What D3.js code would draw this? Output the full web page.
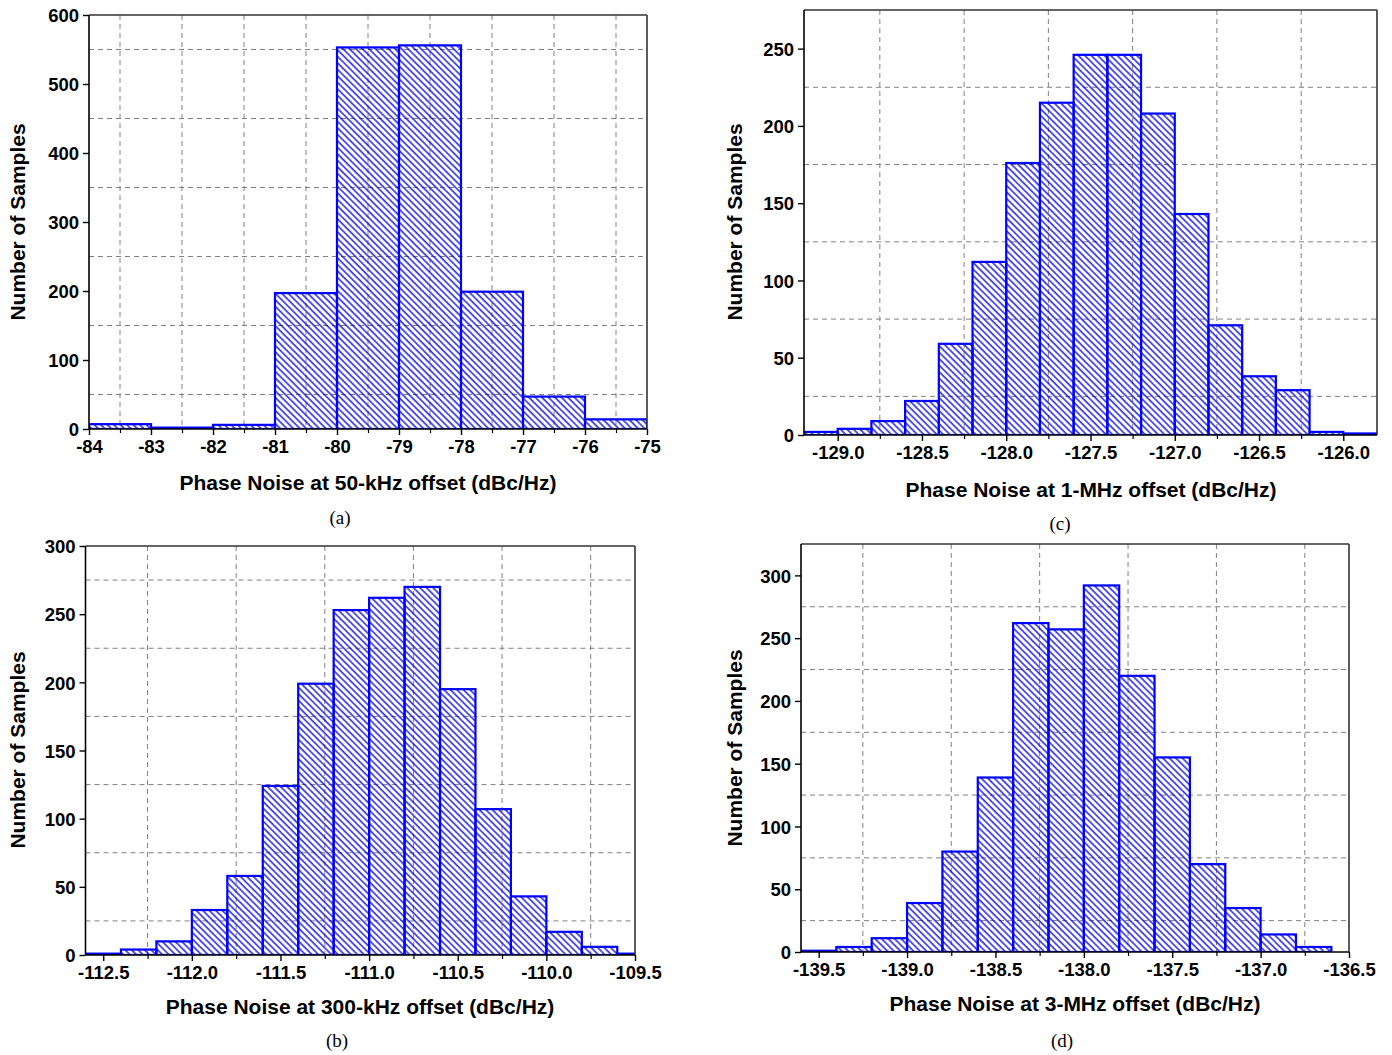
<!DOCTYPE html>
<html>
<head>
<meta charset="utf-8">
<script src="https://cdn.jsdelivr.net/npm/d3@7"></script>
<style>
  html, body { margin: 0; padding: 0; background: #fff; }
  svg { display: block; }
  .tick text { font-family: "Liberation Sans", Arial, sans-serif; font-weight: bold; font-size: 18.5px; fill: #000; }
  .axis-title { font-family: "Liberation Sans", Arial, sans-serif; font-weight: bold; font-size: 21px; fill: #000; }
  .caption { font-family: "Liberation Serif", "Times New Roman", serif; font-size: 19px; fill: #000; }
</style>
</head>
<body>
<svg id="chart" width="1392" height="1055"></svg>
<script>
// ---- data: histogram bins (left edges), bin width and counts ----
// (a) 50-kHz offset
const aBins = [-84, -83, -82, -81, -80, -79, -78, -77, -76];
const aCounts = [7, 2, 6, 197, 553, 556, 199, 47, 14];
const aBinWidth = 1;
const aXTicks = [-84, -83, -82, -81, -80, -79, -78, -77, -76, -75];
const aXGrid = [-83.5, -82.5, -81.5, -80.5, -79.5, -78.5, -77.5, -76.5, -75.5];
const aYTicks = [0, 100, 200, 300, 400, 500, 600];
const aYGrid = [50, 150, 250, 350, 450, 550];

// (b) 300-kHz offset
const bBins = [-112.6, -112.4, -112.2, -112.0, -111.8, -111.6, -111.4, -111.2, -111.0, -110.8, -110.6, -110.4, -110.2, -110.0, -109.8, -109.6];
const bCounts = [1, 4, 10, 33, 58, 124, 199, 253, 262, 270, 195, 107, 43, 17, 6, 1];
const bBinWidth = 0.2;
const bXTicks = [-112.5, -112.0, -111.5, -111.0, -110.5, -110.0, -109.5];
const bXGrid = [-112.25, -111.75, -111.25, -110.75, -110.25, -109.75];
const bYTicks = [0, 50, 100, 150, 200, 250, 300];
const bYGrid = [25, 75, 125, 175, 225, 275];

// (c) 1-MHz offset
const cBins = [-129.2, -129.0, -128.8, -128.6, -128.4, -128.2, -128.0, -127.8, -127.6, -127.4, -127.2, -127.0, -126.8, -126.6, -126.4, -126.2, -126.0];
const cCounts = [2, 4, 9, 22, 59, 112, 176, 215, 246, 246, 208, 143, 71, 38, 29, 2, 1];
const cBinWidth = 0.2;
const cXTicks = [-129.0, -128.5, -128.0, -127.5, -127.0, -126.5, -126.0];
const cXGrid = [-128.75, -128.25, -127.75, -127.25, -126.75, -126.25];
const cYTicks = [0, 50, 100, 150, 200, 250];
const cYGrid = [25, 75, 125, 175, 225];

// (d) 3-MHz offset
const dBins = [-139.6, -139.4, -139.2, -139.0, -138.8, -138.6, -138.4, -138.2, -138.0, -137.8, -137.6, -137.4, -137.2, -137.0, -136.8];
const dCounts = [1, 4, 11, 39, 80, 139, 262, 257, 292, 220, 155, 70, 35, 14, 4];
const dBinWidth = 0.2;
const dXTicks = [-139.5, -139.0, -138.5, -138.0, -137.5, -137.0, -136.5];
const dXGrid = [-139.25, -138.75, -138.25, -137.75, -137.25, -136.75];
const dYTicks = [0, 50, 100, 150, 200, 250, 300];
const dYGrid = [25, 75, 125, 175, 225, 275];

const blue = "#0000ff";
const svg = d3.select("#chart");

// diagonal hatch "\\\" used for every bar
const defs = svg.append("defs");
defs.append("pattern")
    .attr("id", "hatch")
    .attr("patternUnits", "userSpaceOnUse")
    .attr("width", 4.6).attr("height", 10)
    .attr("patternTransform", "rotate(-45)")
    .append("line")
    .attr("x1", 1).attr("y1", -2).attr("x2", 1).attr("y2", 12)
    .attr("stroke", "#0000e6").attr("stroke-width", 1.3);

function drawPanel(p) {
    const x = d3.scaleLinear().domain(p.xDomain).range([p.left, p.right]);
    const y = d3.scaleLinear().domain(p.yDomain).range([p.bottom, p.top]);
    const g = svg.append("g");

    defs.append("clipPath").attr("id", `clip-${p.id}`)
        .append("rect")
        .attr("x", p.left).attr("y", p.top - 5)
        .attr("width", p.right - p.left).attr("height", p.bottom - p.top + 5);

    // dashed grid at the minor positions
    g.append("g").selectAll("line").data(p.xGrid).join("line")
        .attr("x1", d => x(d)).attr("x2", d => x(d))
        .attr("y1", p.top).attr("y2", p.bottom)
        .attr("stroke", "#808080").attr("stroke-width", 1).attr("stroke-dasharray", "5,4");
    g.append("g").selectAll("line").data(p.yGrid).join("line")
        .attr("x1", p.left).attr("x2", p.right)
        .attr("y1", d => y(d)).attr("y2", d => y(d))
        .attr("stroke", "#808080").attr("stroke-width", 1).attr("stroke-dasharray", "5,4");

    // bars
    const data = p.bins.map((b, i) => ({ x0: b, x1: b + p.binWidth, n: p.counts[i] }));
    g.append("g").attr("clip-path", `url(#clip-${p.id})`)
        .selectAll("rect").data(data).join("rect")
        .attr("x", d => x(d.x0))
        .attr("width", d => x(d.x1) - x(d.x0))
        .attr("y", d => y(d.n))
        .attr("height", d => y(0) - y(d.n))
        .attr("fill", "url(#hatch)")
        .attr("stroke", blue).attr("stroke-width", 2.2);

    // frame: top/right
    g.append("line").attr("x1", p.left).attr("x2", p.right).attr("y1", p.top).attr("y2", p.top)
        .attr("stroke", "#333").attr("stroke-width", 1.6);
    g.append("line").attr("x1", p.right).attr("x2", p.right).attr("y1", p.top).attr("y2", p.bottom)
        .attr("stroke", "#333").attr("stroke-width", 1.6);

    // x axis (major + minor ticks)
    g.append("g").attr("transform", `translate(0,${p.bottom})`)
        .call(d3.axisBottom(x).tickValues(p.xGrid).tickSize(4).tickFormat(""))
        .call(a => a.select(".domain").remove())
        .call(a => a.selectAll(".tick line").attr("stroke", "#000").attr("stroke-width", 1.2));
    g.append("g").attr("transform", `translate(0,${p.bottom})`)
        .call(d3.axisBottom(x).tickValues(p.xTicks).tickSize(6).tickPadding(5).tickFormat(d => d.toFixed(p.xDec)))
        .call(a => a.select(".domain").attr("d", `M${p.left},0H${p.right}`).attr("stroke", "#000").attr("stroke-width", 1.6))
        .call(a => a.selectAll(".tick line").attr("stroke", "#000").attr("stroke-width", 1.4))
        .call(a => a.selectAll(".tick text").attr("font-family", null).attr("font-size", null));

    // y axis
    g.append("g").attr("transform", `translate(${p.left},0)`)
        .call(d3.axisLeft(y).tickValues(p.yTicks).tickSize(6).tickPadding(4).tickFormat(d => d))
        .call(a => a.select(".domain").attr("d", `M0,${p.bottom}V${p.top}`).attr("stroke", "#000").attr("stroke-width", 1.6))
        .call(a => a.selectAll(".tick line").attr("stroke", "#000").attr("stroke-width", 1.4))
        .call(a => a.selectAll(".tick text").attr("font-family", null).attr("font-size", null).attr("dy", "0.36em"));

    // titles
    svg.append("text").attr("class", "axis-title").attr("text-anchor", "middle")
        .attr("x", p.xTitle[0]).attr("y", p.xTitle[1]).text(p.xLabel);
    svg.append("text").attr("class", "axis-title").attr("text-anchor", "middle")
        .attr("transform", `translate(${p.yTitle[0]},${p.yTitle[1]}) rotate(-90)`)
        .text("Number of Samples");
    svg.append("text").attr("class", "caption").attr("text-anchor", "middle")
        .attr("x", p.caption[0]).attr("y", p.caption[1]).text(p.captionText);
}

drawPanel({
    id: "a", bins: aBins, counts: aCounts, binWidth: aBinWidth,
    xTicks: aXTicks, xGrid: aXGrid, yTicks: aYTicks, yGrid: aYGrid, xDec: 0,
    xDomain: [-84, -75], yDomain: [0, 600],
    left: 89, right: 647, top: 15, bottom: 429,
    xLabel: "Phase Noise at 50-kHz offset (dBc/Hz)", xTitle: [368, 490], yTitle: [25, 222],
    captionText: "(a)", caption: [340, 524]
});
drawPanel({
    id: "c", bins: cBins, counts: cCounts, binWidth: cBinWidth,
    xTicks: cXTicks, xGrid: cXGrid, yTicks: cYTicks, yGrid: cYGrid, xDec: 1,
    xDomain: [-129.2, -125.8], yDomain: [0, 275],
    left: 804, right: 1377, top: 10, bottom: 435,
    xLabel: "Phase Noise at 1-MHz offset (dBc/Hz)", xTitle: [1091, 497], yTitle: [742, 222],
    captionText: "(c)", caption: [1060, 530]
});
drawPanel({
    id: "b", bins: bBins, counts: bCounts, binWidth: bBinWidth,
    xTicks: bXTicks, xGrid: bXGrid, yTicks: bYTicks, yGrid: bYGrid, xDec: 1,
    xDomain: [-112.6, -109.5], yDomain: [0, 300],
    left: 85.5, right: 635, top: 546, bottom: 955,
    xLabel: "Phase Noise at 300-kHz offset (dBc/Hz)", xTitle: [360, 1014], yTitle: [25, 750],
    captionText: "(b)", caption: [337, 1047]
});
drawPanel({
    id: "d", bins: dBins, counts: dCounts, binWidth: dBinWidth,
    xTicks: dXTicks, xGrid: dXGrid, yTicks: dYTicks, yGrid: dYGrid, xDec: 1,
    xDomain: [-139.6, -136.5], yDomain: [0, 325],
    left: 801, right: 1349, top: 544, bottom: 952,
    xLabel: "Phase Noise at 3-MHz offset (dBc/Hz)", xTitle: [1075, 1011], yTitle: [742, 748],
    captionText: "(d)", caption: [1062, 1047]
});
</script>
</body>
</html>
